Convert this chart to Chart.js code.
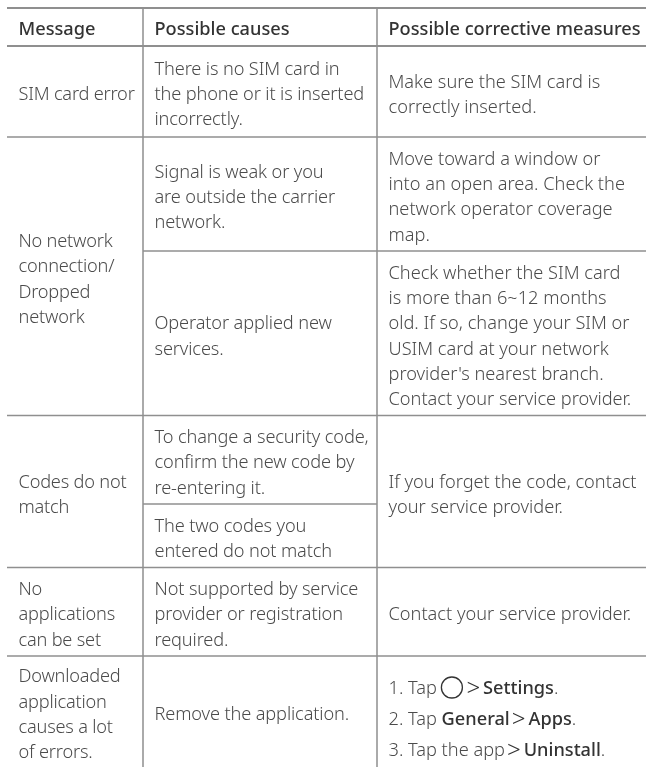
<!DOCTYPE html>
<html>
<head>
<meta charset="utf-8">
<script src="https://cdn.jsdelivr.net/npm/chart.js@4"></script>
<style>
html, body { margin: 0; padding: 0; background: #fff; }
canvas { display: block; }
</style>
</head>
<body>
<canvas id="tableChart" width="646" height="767"></canvas>
<script>
const headers = ['Message', 'Possible causes', 'Possible corrective measures'];

// table edges, in picture units
const columnEdges = [7, 143, 377, 646];
const headerEdges = [8, 46];
const rowEdges = [46, 137, 251, 415.5, 504, 567.5, 656, 767];

// [column, first row, last row, lines]
const messageCells = [
    [0, 0, 0, ['SIM card error']],
    [0, 1, 2, ['No network', 'connection/', 'Dropped', 'network']],
    [0, 3, 4, ['Codes do not', 'match']],
    [0, 5, 5, ['No', 'applications', 'can be set']],
    [0, 6, 6, ['Downloaded', 'application', 'causes a lot', 'of errors.']]
];
const causeCells = [
    [1, 0, 0, ['There is no SIM card in', 'the phone or it is inserted', 'incorrectly.']],
    [1, 1, 1, ['Signal is weak or you', 'are outside the carrier', 'network.']],
    [1, 2, 2, ['Operator applied new', 'services.']],
    [1, 3, 3, ['To change a security code,', 'confirm the new code by', 're-entering it.']],
    [1, 4, 4, ['The two codes you', 'entered do not match']],
    [1, 5, 5, ['Not supported by service', 'provider or registration', 'required.']],
    [1, 6, 6, ['Remove the application.']]
];
const measureCells = [
    [2, 0, 0, ['Make sure the SIM card is', 'correctly inserted.']],
    [2, 1, 1, ['Move toward a window or', 'into an open area. Check the', 'network operator coverage', 'map.']],
    [2, 2, 2, ['Check whether the SIM card', 'is more than 6~12 months', 'old. If so, change your SIM or', 'USIM card at your network', "provider's nearest branch.", 'Contact your service provider.']],
    [2, 3, 4, ['If you forget the code, contact', 'your service provider.']],
    [2, 5, 5, ['Contact your service provider.']]
];
// last cell: text runs, 'b' marks bold, 'icon' is the round home key
const stepRuns = [
    [['1. Tap', 'n'], ['', 'icon'], ['>', 'gt'], ['Settings', 'b'], ['.', 'n']],
    [['2. Tap ', 'n'], ['General', 'b'], ['>', 'gt'], ['Apps', 'b'], ['.', 'n']],
    [['3. Tap the app', 'n'], ['>', 'gt'], ['Uninstall', 'b'], ['.', 'n']]
];

const RULE_COLOR = '#8f8f8f';
const TEXT_COLOR = '#4b4b4b';
const HEAD_COLOR = '#333333';
const BODY_FONT = '300 18.2px "Noto Sans"';
const BOLD_FONT = '500 18.2px "Noto Sans"';
const COLUMN_TRACKING = ['-0.2px', '-0.13px', '0px'];
const LINE_HEIGHT = 25.2;
const STEP_HEIGHT = 31;
const PAD_X = 11.5;

function rule(x0, y0, x1, y1, width) {
    return {
        type: 'line',
        data: [{ x: x0, y: y0 }, { x: x1, y: y1 }],
        borderColor: RULE_COLOR,
        borderWidth: width,
        pointRadius: 0,
        tension: 0
    };
}

const rules = [];
headerEdges.forEach(y => rules.push(rule(columnEdges[0], y, columnEdges[3], y, 2)));
[137, 415.5, 567.5, 656].forEach(y => rules.push(rule(columnEdges[0], y, columnEdges[3], y, 1.3)));
rules.push(rule(columnEdges[1], 251, columnEdges[3], 251, 1.3));
rules.push(rule(columnEdges[1], 504, columnEdges[2], 504, 1.3));
rules.push(rule(columnEdges[1], headerEdges[0], columnEdges[1], 767, 1.5));
rules.push(rule(columnEdges[2], headerEdges[0], columnEdges[2], 767, 1.5));

const tableText = {
    id: 'tableText',
    afterDatasetsDraw(chart) {
        const ctx = chart.ctx;
        const xs = chart.scales.x;
        const ys = chart.scales.y;
        ctx.save();
        ctx.textBaseline = 'alphabetic';
        ctx.textAlign = 'left';

        ctx.font = BOLD_FONT;
        ctx.fillStyle = HEAD_COLOR;
        headers.forEach((h, i) => {
            ctx.fillText(h, xs.getPixelForValue(columnEdges[i] + PAD_X), ys.getPixelForValue(35));
        });

        ctx.font = BODY_FONT;
        ctx.fillStyle = TEXT_COLOR;
        [...messageCells, ...causeCells, ...measureCells].forEach(cell => {
            const [col, first, last, lines] = cell;
            const mid = (rowEdges[first] + rowEdges[last + 1]) / 2;
            const start = mid + 8.7 - (lines.length - 1) * LINE_HEIGHT / 2;
            ctx.letterSpacing = COLUMN_TRACKING[col];
            lines.forEach((line, i) => {
                ctx.fillText(line, xs.getPixelForValue(columnEdges[col] + PAD_X), ys.getPixelForValue(start + i * LINE_HEIGHT));
            });
        });
        ctx.letterSpacing = '0px';

        const stepMid = (rowEdges[6] + rowEdges[7]) / 2;
        stepRuns.forEach((runs, i) => {
            let x = columnEdges[2] + PAD_X;
            const y = stepMid + 13.5 + (i - 1) * STEP_HEIGHT;
            runs.forEach(([text, kind]) => {
                if (kind === 'icon') {
                    ctx.beginPath();
                    ctx.arc(xs.getPixelForValue(x + 15), ys.getPixelForValue(y - 6.5), 10.5, 0, Math.PI * 2);
                    ctx.strokeStyle = '#333333';
                    ctx.lineWidth = 1.3;
                    ctx.stroke();
                    x += 27.5;
                    return;
                }
                if (kind === 'gt') {
                    x += 2;
                    ctx.font = '300 24px "Noto Sans"';
                    ctx.fillStyle = '#333333';
                    ctx.fillText(text, xs.getPixelForValue(x), ys.getPixelForValue(y + 2));
                    x += ctx.measureText(text).width + 3;
                    return;
                }
                ctx.font = kind === 'b' ? BOLD_FONT : BODY_FONT;
                ctx.fillStyle = kind === 'b' ? HEAD_COLOR : TEXT_COLOR;
                ctx.fillText(text, xs.getPixelForValue(x), ys.getPixelForValue(y));
                x += ctx.measureText(text).width;
            });
        });
        ctx.restore();
    }
};

new Chart(document.getElementById('tableChart').getContext('2d'), {
    type: 'scatter',
    data: { datasets: rules },
    options: {
        responsive: false,
        animation: false,
        layout: { padding: 0 },
        plugins: { legend: { display: false }, tooltip: { enabled: false } },
        scales: {
            x: { type: 'linear', min: 0, max: 646, display: false },
            y: { type: 'linear', min: 0, max: 767, reverse: true, display: false }
        }
    },
    plugins: [tableText]
});
</script>
</body>
</html>
